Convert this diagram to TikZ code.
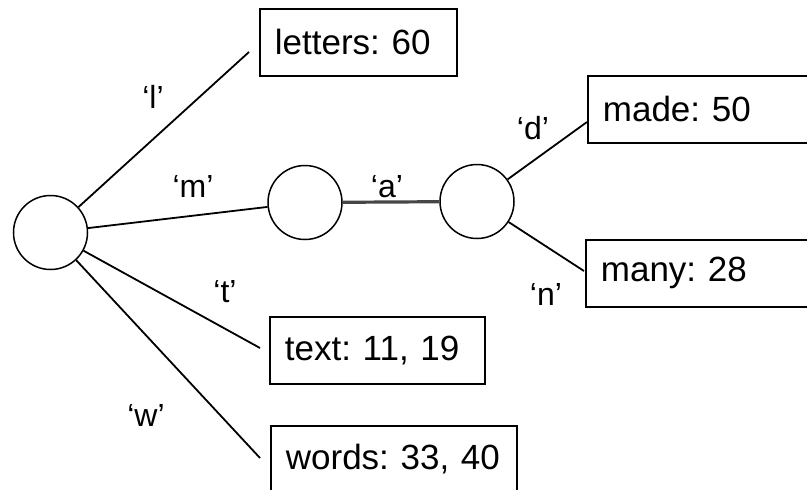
\documentclass[tikz,border=0pt]{standalone}
\usepackage{fontspec}
\setmainfont{Liberation Sans}
\frenchspacing
\begin{document}
\begin{tikzpicture}[x=1pt,y=-1pt,
  trienode/.style={circle,draw,line width=1.5pt,minimum size=74pt,inner sep=0pt},
  leafbox/.style={draw,line width=1.8pt,anchor=north west,minimum height=67pt,
    inner xsep=15pt,align=left,font=\frenchspacing\fontsize{35}{35}\selectfont},
  edgelbl/.style={font=\fontsize{32}{32}\selectfont,inner sep=0pt},
  edge/.style={line width=1.8pt}]
\useasboundingbox (0,0) rectangle (807,490);
\clip (0,0) rectangle (807,490);
\fill[white] (0,0) rectangle (807,490);

% inner trie nodes
\node[trienode] (root) at (50.5,232.5) {};
\node[trienode] (nm) at (305,202.5) {};
\node[trienode] (na) at (477,201.5) {};

% leaf entries with their positions
\node[leafbox,text width=167pt] (letters) at (259,8) {letters: 60};
\node[leafbox,text width=185pt] (text) at (269,316) {text: 11, 19};
\node[leafbox,text width=216pt] (words) at (270,425) {words: 33, 40};
\node[leafbox,text width=200pt] (made) at (587,75) {made: 50};
\node[leafbox,text width=200pt] (many) at (585,239) {many: 28};

% free ends of the edges that stop short of their boxes
\coordinate (lend) at (249,52);
\coordinate (tend) at (260,348);
\coordinate (wend) at (260,458);
\coordinate (dend) at (587,122);
\coordinate (nend) at (584,271);

% edges
\draw[edge] (root) -- (lend);
\draw[edge] (root) -- (nm);
\draw[edge] (root) -- (tend);
\draw[edge] (root) -- (wend);
\draw[line width=3.2pt,gray!55!black] (nm) -- (na);
\draw[edge] (na) -- (dend);
\draw[edge] (na) -- (nend);

% edge labels
\node[edgelbl] (ll) at (153,97) {‘l’};
\node[edgelbl] (lm) at (193,186) {‘m’};
\node[edgelbl] (la) at (387,187) {‘a’};
\node[edgelbl] (ld) at (533,128) {‘d’};
\node[edgelbl] (ln) at (546,294) {‘n’};
\node[edgelbl] (lt) at (225,292) {‘t’};
\node[edgelbl] (lw) at (146,415) {‘w’};
\end{tikzpicture}
\end{document}
